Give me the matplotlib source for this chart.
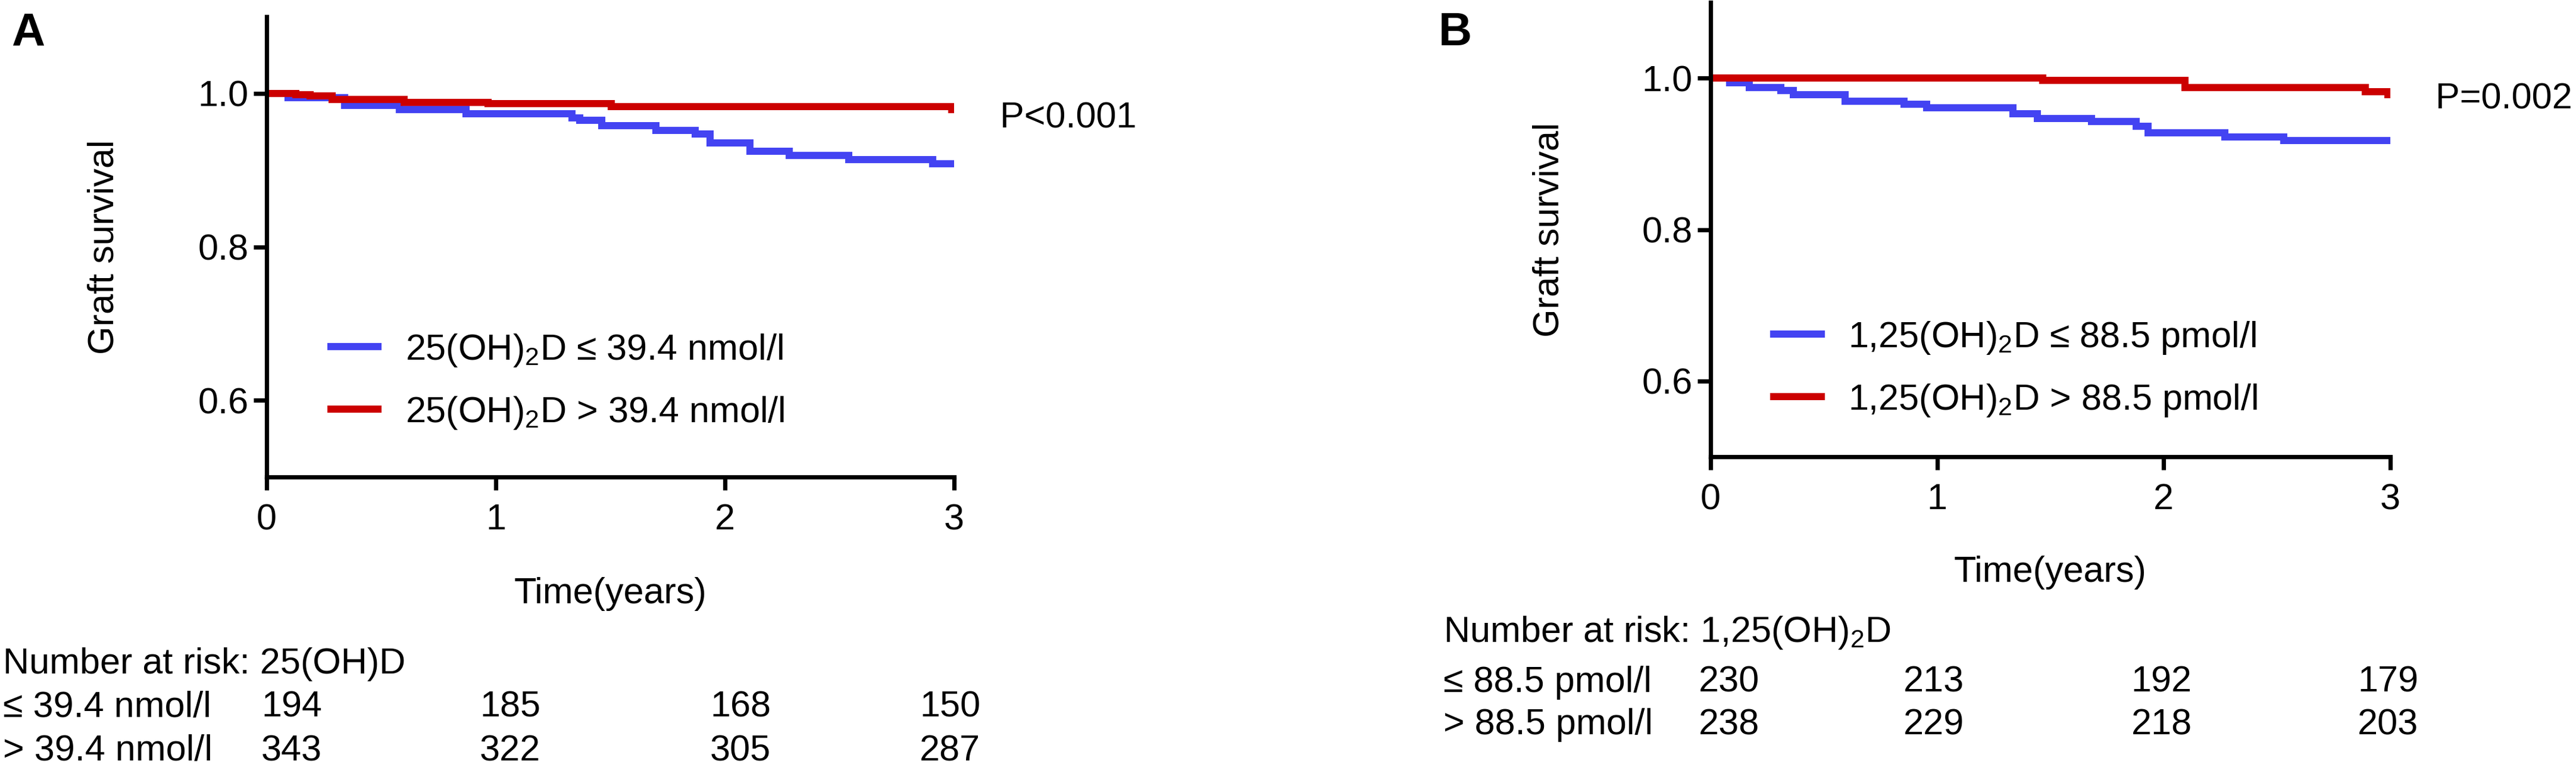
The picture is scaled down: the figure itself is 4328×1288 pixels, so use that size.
import numpy as np
import matplotlib
matplotlib.use('Agg')
import matplotlib.pyplot as plt
from matplotlib.lines import Line2D
from matplotlib.transforms import blended_transform_factory

plt.rcParams['font.family'] = ['Liberation Sans', 'DejaVu Sans']
plt.rcParams['mathtext.fontset'] = 'custom'
plt.rcParams['mathtext.rm'] = 'Liberation Sans'
plt.rcParams['mathtext.it'] = 'Liberation Sans:italic'
plt.rcParams['mathtext.bf'] = 'Liberation Sans:bold'
plt.rcParams['mathtext.default'] = 'regular'

# ---- data ----
# panel A: 25(OH)D
a_low_t = [0, 0.093, 0.341, 0.578, 0.869, 1.332, 1.365, 1.462, 1.699, 1.871, 1.936, 2.108, 2.28, 2.539, 2.906, 3.0]
a_low_s = [1.0, 0.9946, 0.984, 0.9793, 0.9733, 0.968, 0.965, 0.9583, 0.9518, 0.947, 0.9358, 0.9249, 0.919, 0.9135, 0.908, 0.908]
a_high_t = [0, 0.126, 0.19, 0.287, 0.6, 0.966, 1.505, 2.99, 3.0]
a_high_s = [1.0, 0.9987, 0.9966, 0.9922, 0.9886, 0.9865, 0.9826, 0.979, 0.979]
a_labels = [r'25(OH)$_2$D ≤ 39.4 nmol/l', r'25(OH)$_2$D > 39.4 nmol/l']
a_pval = 'P<0.001'
a_risk_title = 'Number at risk: 25(OH)D'
a_risk_rows = ['≤ 39.4 nmol/l', '> 39.4 nmol/l']
a_risk_low = [194, 185, 168, 150]
a_risk_high = [343, 322, 305, 287]

# panel B: 1,25(OH)2D
b_low_t = [0, 0.083, 0.17, 0.311, 0.366, 0.594, 0.855, 0.953, 1.334, 1.443, 1.682, 1.878, 1.932, 2.27, 2.531, 3.0]
b_low_s = [1.0, 0.994, 0.9877, 0.9837, 0.9785, 0.9693, 0.9654, 0.9606, 0.953, 0.9467, 0.9425, 0.9365, 0.9276, 0.9223, 0.9178, 0.9178]
b_high_t = [0, 1.465, 2.095, 2.89, 2.99, 3.0]
b_high_s = [1.0, 0.9966, 0.9874, 0.982, 0.978, 0.978]
b_labels = [r'1,25(OH)$_2$D ≤ 88.5 pmol/l', r'1,25(OH)$_2$D > 88.5 pmol/l']
b_pval = 'P=0.002'
b_risk_title = r'Number at risk: 1,25(OH)$_2$D'
b_risk_rows = ['≤ 88.5 pmol/l', '> 88.5 pmol/l']
b_risk_low = [230, 213, 192, 179]
b_risk_high = [238, 229, 218, 203]

risk_times = [0, 1, 2, 3]

BLUE = '#4343F2'
RED = '#CC0000'
FS = 22
W, H, DPI = 4328, 1288, 200

fig = plt.figure(figsize=(W / DPI, H / DPI), dpi=DPI)


def px_box(x0, x1, y0, y1):
    return [x0 / W, 1 - y1 / H, (x1 - x0) / W, (y1 - y0) / H]


def km_panel(box, low_t, low_s, high_t, high_s, labels, pval, pval_y, leg_xy):
    ax = fig.add_axes(box)
    ax.step(low_t, low_s, where='post', color=BLUE, lw=4.3, solid_joinstyle='miter')
    ax.step(high_t, high_s, where='post', color=RED, lw=4.3, solid_joinstyle='miter')
    ax.set_xlim(0, 3)
    ax.set_ylim(0.5, 1.1)
    ax.set_xticks([0, 1, 2, 3])
    ax.set_yticks([0.6, 0.8, 1.0])
    ax.set_yticklabels(['0.6', '0.8', '1.0'])
    for s in ['top', 'right']:
        ax.spines[s].set_visible(False)
    for s in ['left', 'bottom']:
        ax.spines[s].set_linewidth(2.6)
    ax.tick_params(axis='both', width=2.6, length=8, labelsize=FS)
    ax.tick_params(axis='x', pad=8)
    ax.tick_params(axis='y', pad=3)
    ax.set_ylabel('Graft survival', fontsize=FS)
    ax.yaxis.set_label_coords(-0.212, 0.5)
    ax.set_xlabel('Time(years)', fontsize=FS)
    ax.xaxis.set_label_coords(0.5, -0.217)
    ax.text(3.2, pval_y, pval, fontsize=FS, va='baseline', ha='left', clip_on=False)
    handles = [Line2D([], [], color=BLUE, lw=4.3), Line2D([], [], color=RED, lw=4.3)]
    ax.legend(handles, labels, loc='center left', bbox_to_anchor=leg_xy, frameon=False,
              fontsize=FS, borderpad=0, borderaxespad=0, handlelength=1.3,
              handletextpad=0.75, labelspacing=0.72)
    return ax


ax_a = km_panel(px_box(448, 1603, 28, 801), a_low_t, a_low_s, a_high_t, a_high_s,
                a_labels, a_pval, 0.9556, (0.0935, 0.2076))
ax_b = km_panel(px_box(2874, 4016, 4, 767), b_low_t, b_low_s, b_high_t, b_high_s,
                b_labels, b_pval, 0.960, (0.093, 0.193))

fig.text(19 / W, 1 - 76 / H, 'A', fontsize=28, fontweight='bold', va='baseline')
fig.text(2417 / W, 1 - 76 / H, 'B', fontsize=28, fontweight='bold', va='baseline')


def risk_table(ax, title, rows, low, high, x_left, baselines, offsets):
    fig.text(x_left / W, 1 - baselines[0] / H, title, fontsize=FS, va='baseline')
    tr = blended_transform_factory(ax.transData, fig.transFigure)
    for row, vals, yb in zip(rows, [low, high], baselines[1:]):
        fig.text(x_left / W, 1 - yb / H, row, fontsize=FS, va='baseline')
        for t, v, off in zip(risk_times, vals, offsets):
            fig.text(t + off, 1 - yb / H, str(v), fontsize=FS, va='baseline',
                     ha='left', transform=tr)


risk_table(ax_a, a_risk_title, a_risk_rows, a_risk_low, a_risk_high, 5,
           [1131, 1204, 1277], [-0.023, -0.07, -0.065, -0.15])
risk_table(ax_b, b_risk_title, b_risk_rows, b_risk_low, b_risk_high, 2425,
           [1078, 1162, 1233], [-0.052, -0.15, -0.144, -0.144])

fig.savefig('out.png', dpi=DPI, facecolor='white')
